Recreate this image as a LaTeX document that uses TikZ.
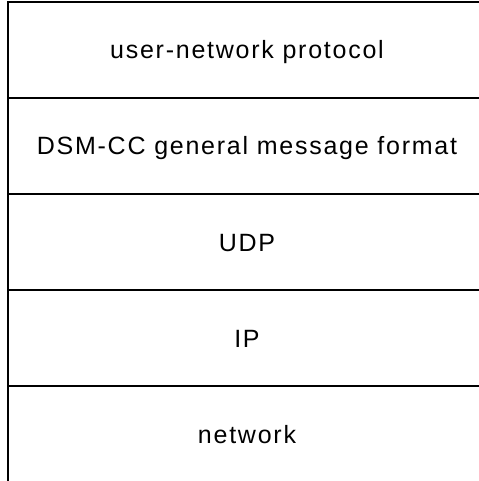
\documentclass[tikz,border=0pt]{standalone}
\usepackage{fontspec}
\setmainfont{Liberation Sans}
\begin{document}
\begin{tikzpicture}[x=1bp,y=-1bp,
  layer/.style={draw=black, line width=1.2bp, minimum width=478bp, minimum height=96bp,
    inner sep=0pt, text height=18bp, text depth=0bp,
    font=\fontsize{25bp}{29bp}\selectfont\addfontfeature{LetterSpace=7}}]
  \useasboundingbox (0,0) rectangle (479,481);
  \clip (0,0) rectangle (479,481);
  % protocol stack, top to bottom
  \node[layer] (unp) at (247,50)  {user-network protocol};
  \node[layer] (dsm) at (247,146) {DSM-CC general message format};
  \node[layer] (udp) at (247,242) {UDP};
  \node[layer] (ip)  at (247,338) {IP};
  \node[layer] (net) at (247,434) {network};
\end{tikzpicture}
\end{document}
